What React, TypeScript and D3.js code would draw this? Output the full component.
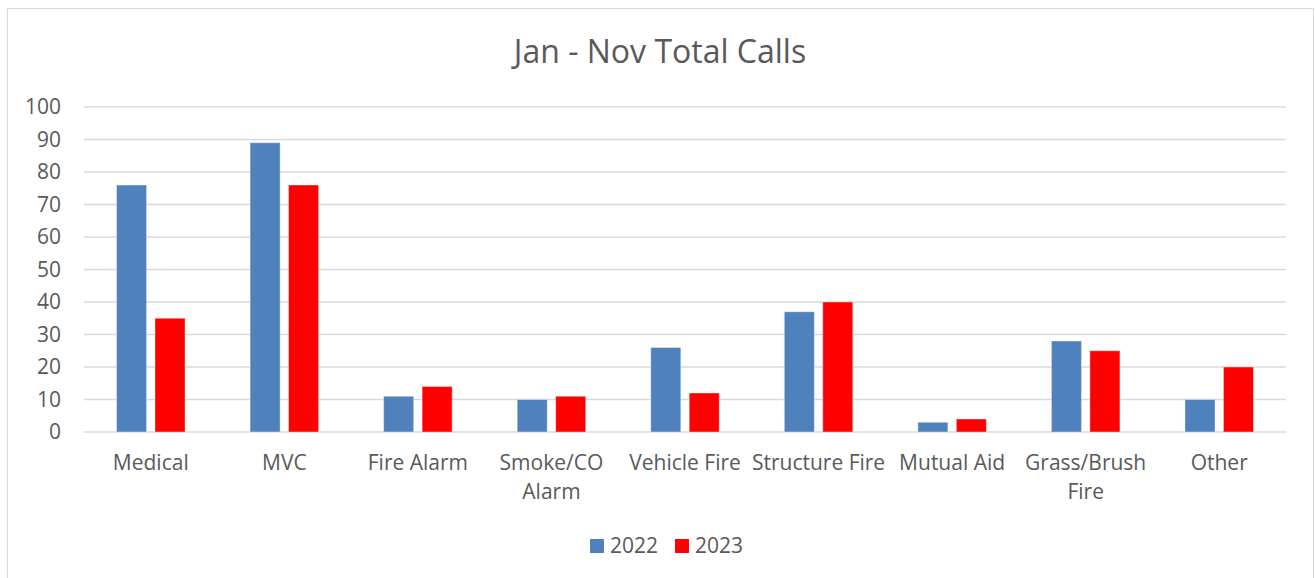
import React from "react";
import * as d3 from "d3";

const categories = ["Medical", "MVC", "Fire Alarm", "Smoke/CO Alarm", "Vehicle Fire", "Structure Fire", "Mutual Aid", "Grass/Brush Fire", "Other"];
const values2022 = [76, 89, 11, 10, 26, 37, 3, 28, 10];
const values2023 = [35, 76, 14, 11, 12, 40, 4, 25, 20];
const seriesNames = ["2022", "2023"];
const seriesColors = ["#4F81BD", "#FF0000"];
const yTicks = [0, 10, 20, 30, 40, 50, 60, 70, 80, 90, 100];
const title = "Jan - Nov Total Calls";

const W = 1315;
const H = 578;
const FONT = "'Open Sans', sans-serif";
const TEXT = "#595959";

function wrapLabel(label: string, maxW: number, fontSize: number): string[] {
  let ctx: CanvasRenderingContext2D | null = null;
  try {
    ctx = document.createElement("canvas").getContext("2d");
  } catch (e) {}
  const measure = (s: string) => {
    if (ctx) {
      ctx.font = `${fontSize}px 'Open Sans'`;
      return ctx.measureText(s).width;
    }
    return s.length * fontSize * 0.55;
  };
  const words = label.split(" ");
  const lines: string[] = [];
  let cur = "";
  for (const w of words) {
    const t = cur ? cur + " " + w : w;
    if (measure(t) > maxW && cur) {
      lines.push(cur);
      cur = w;
    } else cur = t;
  }
  if (cur) lines.push(cur);
  return lines;
}

export default function App() {
  const left = 84, right = 1286, top = 107, bottom = 432;
  const x = d3.scaleBand<string>().domain(categories).range([left, right]).padding(0);
  const y = d3.scaleLinear().domain([0, 100]).range([bottom, top]);
  const bw = x.bandwidth();
  const barW = bw * 0.225;
  const gap = bw * 0.063;
  const series = [values2022, values2023];
  const fs = 21;

  return (
    <svg width={W} height={H} style={{ position: "absolute", left: 0, top: 0 }}>
      <rect x={0} y={0} width={W} height={H} fill="#fff" />
      <rect x={7.5} y={8.5} width={1306} height={580} fill="#fff" stroke="#D9D9D9" strokeWidth={1} />
      <text x={660} y={63} textAnchor="middle" fontFamily={FONT} fontSize={32} fill={TEXT}>
        {title}
      </text>
      {yTicks.map((t) => (
        <g key={t}>
          <line x1={left} x2={right} y1={y(t)} y2={y(t)} stroke="#D9D9D9" strokeWidth={1.3} />
          <text x={61} y={y(t)} dy="0.35em" textAnchor="end" fontFamily={FONT} fontSize={fs} fill={TEXT}>
            {t}
          </text>
        </g>
      ))}
      {categories.map((c, i) => {
        const cx = (x(c) as number) + bw / 2;
        const groupW = barW * 2 + gap;
        return (
          <g key={c}>
            {series.map((vals, s) => {
              const bx = cx - groupW / 2 + s * (barW + gap);
              return (
                <rect
                  key={s}
                  x={bx}
                  y={y(vals[i])}
                  width={barW}
                  height={y(0) - y(vals[i])}
                  fill={seriesColors[s]}
                  stroke="#fff"
                  strokeOpacity={0.4}
                  strokeWidth={1}
                />
              );
            })}
            {wrapLabel(c, bw + 8, fs).map((ln, k) => (
              <text key={k} x={cx} y={470 + k * 29} textAnchor="middle" fontFamily={FONT} fontSize={fs} fill={TEXT}>
                {ln}
              </text>
            ))}
          </g>
        );
      })}
      {seriesNames.map((n, s) => {
        const lx = 590 + s * 85;
        return (
          <g key={n}>
            <rect x={lx} y={539} width={14} height={14} fill={seriesColors[s]} />
            <text x={lx + 20} y={546} dy="0.35em" fontFamily={FONT} fontSize={fs} fill={TEXT}>
              {n}
            </text>
          </g>
        );
      })}
    </svg>
  );
}
